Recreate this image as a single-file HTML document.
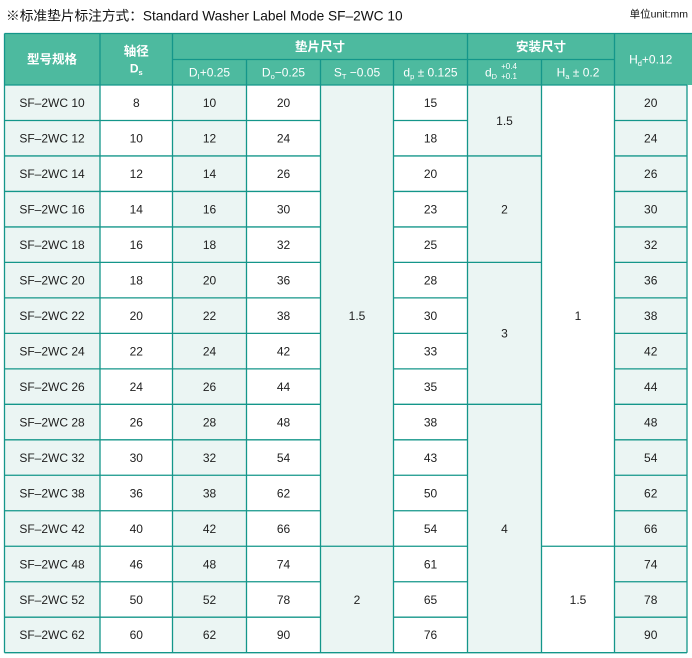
<!DOCTYPE html>
<html><head><meta charset="utf-8"><style>
html,body{margin:0;padding:0;background:#fff;}
svg{display:block;}
text{font-family:"Liberation Sans","Noto Sans CJK SC",sans-serif;}
.d{font-size:12px;fill:#1e1e1e;text-anchor:middle;}
.h{font-size:12px;fill:#fff;text-anchor:middle;}
.hb{font-size:12.5px;fill:#fff;text-anchor:middle;font-weight:bold;}
.s{font-size:7.5px;}
</style></head><body>
<svg width="692" height="658" viewBox="0 0 692 658" xmlns="http://www.w3.org/2000/svg">
<text x="6" y="20.5" style="font-size:13.7px;fill:#111;">※标准垫片标注方式：Standard Washer Label Mode SF–2WC 10</text>
<text x="688" y="17.5" style="font-size:10.5px;fill:#111;text-anchor:end;">单位unit:mm</text>

<rect x="4.5" y="33.5" width="687.5" height="51.5" fill="#4dba9f"/>
<rect x="4.5" y="85" width="95.5" height="567.7" fill="#ebf5f3"/>
<rect x="172.5" y="85" width="74" height="567.7" fill="#ebf5f3"/>
<rect x="320.5" y="85" width="73" height="567.7" fill="#ebf5f3"/>
<rect x="467.5" y="85" width="74" height="567.7" fill="#ebf5f3"/>
<rect x="614.5" y="85" width="72.5" height="567.7" fill="#ebf5f3"/>

<g stroke="#14968a" stroke-width="1.3" fill="none">
<line x1="4.5" y1="33.5" x2="692" y2="33.5"/>
<line x1="172.5" y1="59.5" x2="614.5" y2="59.5"/>
<line x1="4.5" y1="85" x2="687" y2="85"/>
<line x1="4.5" y1="33.5" x2="4.5" y2="652.7"/>
<line x1="100" y1="33.5" x2="100" y2="652.7"/>
<line x1="172.5" y1="33.5" x2="172.5" y2="652.7"/>
<line x1="467.5" y1="33.5" x2="467.5" y2="652.7"/>
<line x1="614.5" y1="33.5" x2="614.5" y2="652.7"/>
<line x1="246.5" y1="59.5" x2="246.5" y2="652.7"/>
<line x1="320.5" y1="59.5" x2="320.5" y2="652.7"/>
<line x1="393.5" y1="59.5" x2="393.5" y2="652.7"/>
<line x1="541.5" y1="59.5" x2="541.5" y2="652.7"/>
<line x1="687" y1="85" x2="687" y2="652.7"/>
<line x1="4.5" y1="652.7" x2="687" y2="652.7"/>
<path d="M4.5 120.48H320.5M393.5 120.48H467.5M614.5 120.48H687
M4.5 155.96H320.5M393.5 155.96H541.5M614.5 155.96H687
M4.5 191.44H320.5M393.5 191.44H467.5M614.5 191.44H687
M4.5 226.92H320.5M393.5 226.92H467.5M614.5 226.92H687
M4.5 262.4H320.5M393.5 262.4H541.5M614.5 262.4H687
M4.5 297.88H320.5M393.5 297.88H467.5M614.5 297.88H687
M4.5 333.36H320.5M393.5 333.36H467.5M614.5 333.36H687
M4.5 368.84H320.5M393.5 368.84H467.5M614.5 368.84H687
M4.5 404.32H320.5M393.5 404.32H541.5M614.5 404.32H687
M4.5 439.8H320.5M393.5 439.8H467.5M614.5 439.8H687
M4.5 475.28H320.5M393.5 475.28H467.5M614.5 475.28H687
M4.5 510.76H320.5M393.5 510.76H467.5M614.5 510.76H687
M4.5 546.24H467.5M541.5 546.24H687
M4.5 581.72H320.5M393.5 581.72H467.5M614.5 581.72H687
M4.5 617.2H320.5M393.5 617.2H467.5M614.5 617.2H687"/>
</g>

<text class="hb" x="52" y="63.5">型号规格</text>
<text class="hb" x="136.3" y="55.5">轴径</text>
<text class="h" x="136.3" y="72.5" style="font-weight:bold;">D<tspan class="s" dy="2.5">s</tspan></text>
<text class="hb" x="320" y="51">垫片尺寸</text>
<text class="hb" x="541" y="51">安装尺寸</text>
<text class="h" x="650.7" y="63.5">H<tspan class="s" dy="2.5">d</tspan><tspan dy="-2.5">+0.12</tspan></text>
<text class="h" x="209.5" y="76.5">D<tspan class="s" dy="2.5">I</tspan><tspan dy="-2.5">+0.25</tspan></text>
<text class="h" x="283.5" y="76.5">D<tspan class="s" dy="2.5">o</tspan><tspan dy="-2.5">−0.25</tspan></text>
<text class="h" x="357" y="76.5">S<tspan class="s" dy="2.5">T</tspan><tspan dy="-2.5"> −0.05</tspan></text>
<text class="h" x="430.5" y="76.5">d<tspan class="s" dy="2.5">p</tspan><tspan dy="-2.5"> ± 0.125</tspan></text>
<text class="h" x="491" y="76.5">d<tspan class="s" dy="2.5">D</tspan></text>
<text x="509" y="69" style="font-size:8px;fill:#fff;text-anchor:middle;">+0.4</text>
<text x="509" y="79" style="font-size:8px;fill:#fff;text-anchor:middle;">+0.1</text>
<text class="h" x="578" y="76.5">H<tspan class="s" dy="2.5">a</tspan><tspan dy="-2.5"> ± 0.2</tspan></text>

<g class="d">
<text class="d" x="52" y="107">SF–2WC 10</text><text class="d" x="136.3" y="107">8</text><text class="d" x="209.5" y="107">10</text><text class="d" x="283.5" y="107">20</text><text class="d" x="430.5" y="107">15</text><text class="d" x="650.7" y="107">20</text>
<text class="d" x="52" y="142.5">SF–2WC 12</text><text class="d" x="136.3" y="142.5">10</text><text class="d" x="209.5" y="142.5">12</text><text class="d" x="283.5" y="142.5">24</text><text class="d" x="430.5" y="142.5">18</text><text class="d" x="650.7" y="142.5">24</text>
<text class="d" x="52" y="178">SF–2WC 14</text><text class="d" x="136.3" y="178">12</text><text class="d" x="209.5" y="178">14</text><text class="d" x="283.5" y="178">26</text><text class="d" x="430.5" y="178">20</text><text class="d" x="650.7" y="178">26</text>
<text class="d" x="52" y="213.5">SF–2WC 16</text><text class="d" x="136.3" y="213.5">14</text><text class="d" x="209.5" y="213.5">16</text><text class="d" x="283.5" y="213.5">30</text><text class="d" x="430.5" y="213.5">23</text><text class="d" x="650.7" y="213.5">30</text>
<text class="d" x="52" y="249">SF–2WC 18</text><text class="d" x="136.3" y="249">16</text><text class="d" x="209.5" y="249">18</text><text class="d" x="283.5" y="249">32</text><text class="d" x="430.5" y="249">25</text><text class="d" x="650.7" y="249">32</text>
<text class="d" x="52" y="284.4">SF–2WC 20</text><text class="d" x="136.3" y="284.4">18</text><text class="d" x="209.5" y="284.4">20</text><text class="d" x="283.5" y="284.4">36</text><text class="d" x="430.5" y="284.4">28</text><text class="d" x="650.7" y="284.4">36</text>
<text class="d" x="52" y="319.9">SF–2WC 22</text><text class="d" x="136.3" y="319.9">20</text><text class="d" x="209.5" y="319.9">22</text><text class="d" x="283.5" y="319.9">38</text><text class="d" x="430.5" y="319.9">30</text><text class="d" x="650.7" y="319.9">38</text>
<text class="d" x="52" y="355.4">SF–2WC 24</text><text class="d" x="136.3" y="355.4">22</text><text class="d" x="209.5" y="355.4">24</text><text class="d" x="283.5" y="355.4">42</text><text class="d" x="430.5" y="355.4">33</text><text class="d" x="650.7" y="355.4">42</text>
<text class="d" x="52" y="390.9">SF–2WC 26</text><text class="d" x="136.3" y="390.9">24</text><text class="d" x="209.5" y="390.9">26</text><text class="d" x="283.5" y="390.9">44</text><text class="d" x="430.5" y="390.9">35</text><text class="d" x="650.7" y="390.9">44</text>
<text class="d" x="52" y="426.4">SF–2WC 28</text><text class="d" x="136.3" y="426.4">26</text><text class="d" x="209.5" y="426.4">28</text><text class="d" x="283.5" y="426.4">48</text><text class="d" x="430.5" y="426.4">38</text><text class="d" x="650.7" y="426.4">48</text>
<text class="d" x="52" y="461.8">SF–2WC 32</text><text class="d" x="136.3" y="461.8">30</text><text class="d" x="209.5" y="461.8">32</text><text class="d" x="283.5" y="461.8">54</text><text class="d" x="430.5" y="461.8">43</text><text class="d" x="650.7" y="461.8">54</text>
<text class="d" x="52" y="497.3">SF–2WC 38</text><text class="d" x="136.3" y="497.3">36</text><text class="d" x="209.5" y="497.3">38</text><text class="d" x="283.5" y="497.3">62</text><text class="d" x="430.5" y="497.3">50</text><text class="d" x="650.7" y="497.3">62</text>
<text class="d" x="52" y="532.8">SF–2WC 42</text><text class="d" x="136.3" y="532.8">40</text><text class="d" x="209.5" y="532.8">42</text><text class="d" x="283.5" y="532.8">66</text><text class="d" x="430.5" y="532.8">54</text><text class="d" x="650.7" y="532.8">66</text>
<text class="d" x="52" y="568.3">SF–2WC 48</text><text class="d" x="136.3" y="568.3">46</text><text class="d" x="209.5" y="568.3">48</text><text class="d" x="283.5" y="568.3">74</text><text class="d" x="430.5" y="568.3">61</text><text class="d" x="650.7" y="568.3">74</text>
<text class="d" x="52" y="603.8">SF–2WC 52</text><text class="d" x="136.3" y="603.8">50</text><text class="d" x="209.5" y="603.8">52</text><text class="d" x="283.5" y="603.8">78</text><text class="d" x="430.5" y="603.8">65</text><text class="d" x="650.7" y="603.8">78</text>
<text class="d" x="52" y="639.2">SF–2WC 62</text><text class="d" x="136.3" y="639.2">60</text><text class="d" x="209.5" y="639.2">62</text><text class="d" x="283.5" y="639.2">90</text><text class="d" x="430.5" y="639.2">76</text><text class="d" x="650.7" y="639.2">90</text>
<text class="d" x="357" y="319.9">1.5</text>
<text class="d" x="357" y="603.8">2</text>
<text class="d" x="504.5" y="124.8">1.5</text>
<text class="d" x="504.5" y="213.5">2</text>
<text class="d" x="504.5" y="337.7">3</text>
<text class="d" x="504.5" y="532.8">4</text>
<text class="d" x="578" y="319.9">1</text>
<text class="d" x="578" y="603.8">1.5</text>
</g>
</svg>
</body></html>
